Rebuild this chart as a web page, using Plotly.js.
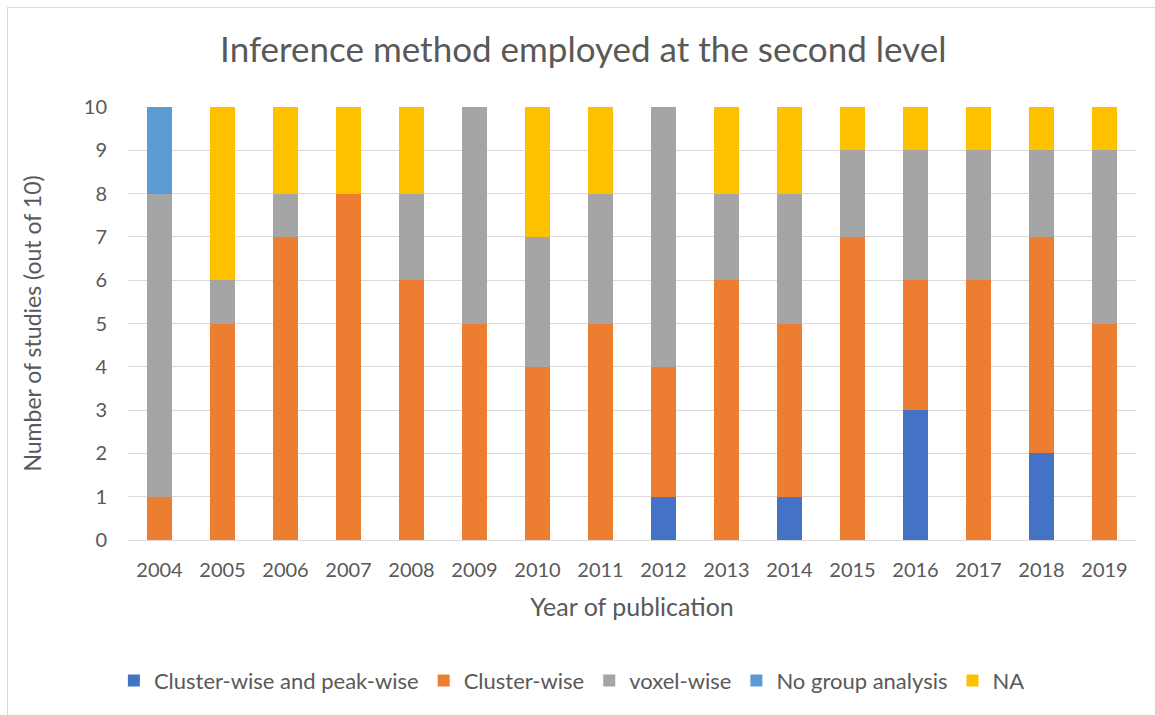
<!DOCTYPE html>
<html><head><meta charset="utf-8">
<script src="https://cdn.plot.ly/plotly-3.0.1.min.js"></script>
<style>html,body{margin:0;padding:0;background:#fff;}#wrap{position:relative;width:1155px;height:715px;}
#chart{width:1155px;height:715px;}
#frame{position:absolute;left:7px;top:7px;width:1160px;height:720px;border-left:1px solid #D9D9D9;border-top:1px solid #D9D9D9;pointer-events:none;}</style>
</head><body><div id="wrap"><div id="chart"></div><div id="frame"></div></div>
<script>
const years = ["2004","2005","2006","2007","2008","2009","2010","2011","2012","2013","2014","2015","2016","2017","2018","2019"];
const clusterPeak = [0,0,0,0,0,0,0,0,1,0,1,0,3,0,2,0];
const clusterWise = [1,5,7,8,6,5,4,5,3,6,4,7,3,6,5,5];
const voxelWise   = [7,1,1,0,2,5,3,3,6,2,3,2,3,3,2,4];
const noGroup     = [2,0,0,0,0,0,0,0,0,0,0,0,0,0,0,0];
const naVals      = [0,4,2,2,2,0,3,2,0,2,2,1,1,1,1,1];
const yTicks = [0,1,2,3,4,5,6,7,8,9,10];

const series = [
  {name:"Cluster-wise and peak-wise", y:clusterPeak, color:"#4472C4"},
  {name:"Cluster-wise", y:clusterWise, color:"#ED7D31"},
  {name:"voxel-wise", y:voxelWise, color:"#A5A5A5"},
  {name:"No group analysis", y:noGroup, color:"#5B9BD5"},
  {name:"NA", y:naVals, color:"#FFC000"}
];
const font = "Lato, 'Liberation Sans', sans-serif";
const data = series.map(s => ({type:"bar", name:s.name, x:years, y:s.y, marker:{color:s.color}, hoverinfo:"y+name"}));
const layout = {
  barmode:"stack", bargap:0.6,
  width:1155, height:715,
  margin:{l:128, r:19, t:107, b:175},
  paper_bgcolor:"#fff", plot_bgcolor:"#fff",
  font:{family:font, color:"#595959", size:22},
  title:{text:"Inference method employed at the second level", font:{size:35, color:"#595959", family:font}, x:0.505, xanchor:"center", y:0.93, yanchor:"middle"},
  xaxis:{type:"category", tickfont:{size:20}, showgrid:false, showline:true, linecolor:"#D9D9D9", linewidth:1,
         ticks:"outside", ticklen:12, tickcolor:"rgba(0,0,0,0)",
         title:{text:"Year of publication", font:{size:25}, standoff:18}},
  yaxis:{range:[0,10], tickvals:yTicks, tickfont:{size:20}, gridcolor:"#D9D9D9", zeroline:false, showline:false,
         ticks:"outside", ticklen:16, tickcolor:"rgba(0,0,0,0)",
         title:{text:"Number of studies (out of 10)", font:{size:23}, standoff:35}},
  legend:{orientation:"h", x:-0.014, xanchor:"left", y:-0.325, yanchor:"middle", font:{size:22}, traceorder:"normal", itemwidth:30},
  showlegend:true
};
Plotly.newPlot("chart", data, layout, {displayModeBar:false});
</script></body></html>
